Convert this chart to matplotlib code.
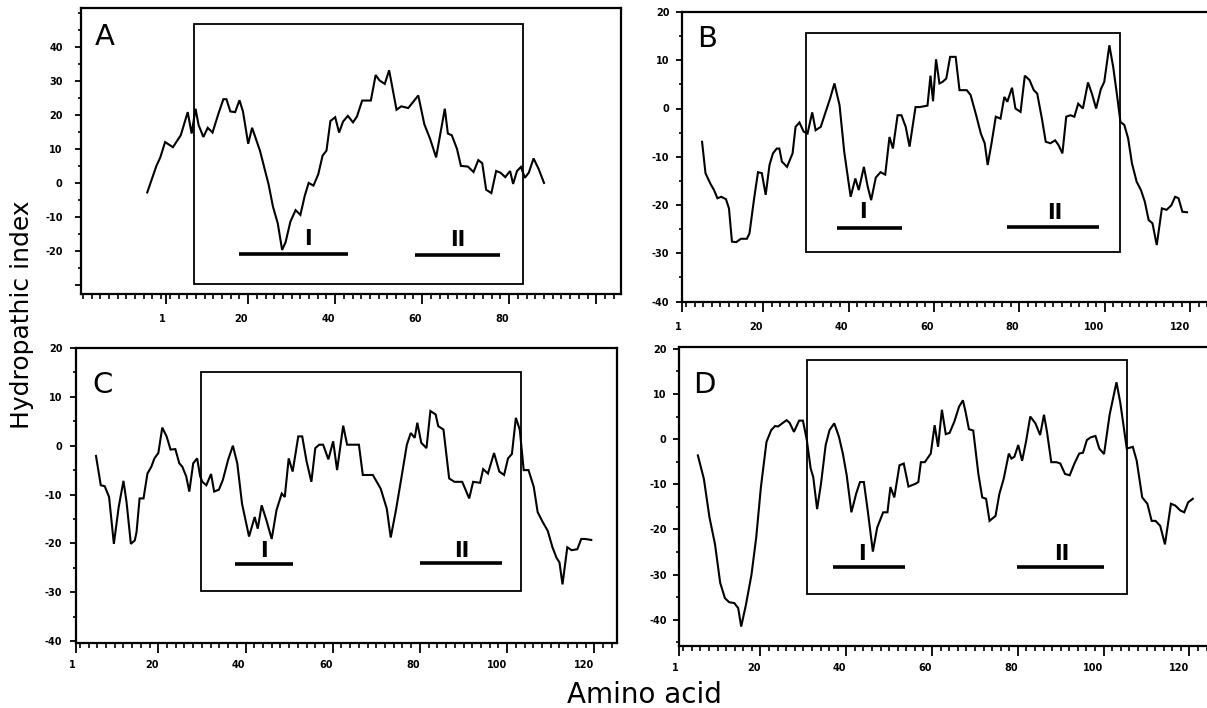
import matplotlib
matplotlib.use("Agg")
import matplotlib.pyplot as plt
from matplotlib.patches import Rectangle
from matplotlib.ticker import MultipleLocator

# ---------------- data ----------------
A_x = [-3.2, -1.1, -0.2, 0.9, 2.7, 4.5, 6.1, 7.0, 7.9, 8.6, 9.7, 10.7, 11.8, 13.2, 14.3, 15.0,
       15.9, 17.0, 18.0, 18.8, 20.0, 20.9, 22.7, 23.6, 24.7, 25.7, 26.8, 27.8, 28.6, 29.7, 30.9,
       32.0, 33.0, 33.9, 35.0, 36.1, 37.1, 38.0, 38.9, 40.0, 40.9, 41.8, 42.9, 44.1, 45.0, 46.2,
       48.2, 49.3, 50.2, 51.4, 52.4, 54.1, 55.2, 56.8, 59.1, 60.5, 61.8, 63.2, 65.2, 65.9, 66.8,
       68.0, 68.9, 70.5, 71.8, 72.9, 73.8, 74.7, 75.9, 77.0, 78.0, 79.1, 80.2, 80.9, 81.8, 82.7,
       83.6, 84.5, 85.6, 86.8, 88.0]
A_y = [-2.7, 5.1, 7.6, 12.1, 10.6, 14.1, 20.9, 14.6, 21.9, 17.1, 13.6, 16.3, 14.9, 20.6, 24.7, 24.7,
       21.1, 20.9, 24.4, 21.1, 11.6, 16.3, 9.6, 5.1, -0.4, -6.9, -11.8, -19.6, -17.3, -11.3, -7.9,
       -9.3, -3.7, 0.1, -0.7, 2.6, 8.1, 9.6, 18.3, 19.4, 14.9, 18.1, 19.8, 17.9, 19.6, 24.3,
       24.3, 31.8, 30.2, 29.2, 33.2, 21.6, 22.6, 22.1, 25.8, 17.3, 13.1, 7.6, 21.9, 14.6, 14.1,
       10.1, 5.1, 4.9, 3.3, 6.8, 5.9, -1.9, -2.9, 3.6, 3.1, 1.8, 3.6, -0.2, 3.6, 4.8,
       1.6, 3.1, 7.3, 4.1, 0.1]

B_x = [5.7, 6.5, 7.6, 8.5, 9.3, 10.2, 11.3, 12.0, 12.7, 13.7, 14.8, 16.2, 16.8, 17.9, 18.8, 19.7,
       20.6, 21.5, 22.3, 23.2, 23.8, 24.4, 25.6, 26.9, 27.6, 28.5, 29.5, 30.4, 31.5, 32.3, 33.5,
       34.8, 35.7, 36.7, 37.9, 39.0, 40.5, 41.6, 42.4, 43.6, 44.5, 45.3, 46.4, 47.5, 48.6, 49.6,
       50.4, 51.5, 52.4, 53.4, 54.3, 55.7, 56.7, 58.5, 59.2, 59.8, 60.5, 61.3, 62.0, 62.9, 63.8,
       65.1, 66.0, 67.7, 68.6, 69.9, 71.0, 71.9, 72.6, 73.5, 74.5, 75.6, 76.5, 77.2, 78.3, 79.1,
       80.3, 81.3, 82.4, 83.4, 84.2, 85.3, 86.2, 87.3, 88.4, 89.2, 90.1, 91.0, 92.0, 92.9, 93.8,
       94.9, 96.1, 97.0, 98.0, 99.1, 99.9, 101.1, 102.0, 102.8, 103.7, 104.6, 105.5, 106.4, 107.5,
       108.5, 109.4, 110.3, 111.2, 112.2, 113.4, 114.5, 115.6, 116.5, 117.3, 118.2, 119.3]
B_y = [-6.9, -13.4, -15.5, -16.9, -18.6, -18.3, -18.8, -20.7, -27.6, -27.7, -27.0, -27.0, -25.9, -18.6, -13.2, -13.4,
       -17.9, -11.7, -9.3, -8.3, -8.3, -11.0, -12.1, -9.3, -3.8, -2.9, -4.8, -5.2, -0.8, -4.5, -3.8,
       -0.3, 2.1, 5.2, 0.7, -9.0, -18.3, -14.5, -16.9, -12.1, -16.2, -19.0, -14.3, -13.2, -13.7, -5.9,
       -8.3, -1.4, -1.4, -3.8, -7.9, 0.3, 0.3, 0.6, 6.8, 1.5, 10.2, 5.2, 5.5, 6.2, 10.7,
       10.7, 3.8, 3.8, 2.8, -1.4, -5.2, -7.2, -11.7, -7.2, -1.7, -2.1, 2.4, 1.4, 4.3, 0.0,
       -0.7, 6.8, 5.9, 3.8, 3.1, -2.1, -6.9, -7.2, -6.6, -7.6, -9.3, -1.7, -1.4, -1.7, 1.0,
       0.0, 5.4, 3.1, 0.0, 4.0, 5.5, 13.1, 8.6, 3.4, -2.8, -3.4, -6.2, -11.4, -15.2,
       -16.9, -19.3, -23.1, -23.8, -28.3, -20.7, -21.0, -20.1, -18.3, -18.6, -21.4, -21.5]

C_x = [5.7, 6.8, 7.7, 8.7, 9.8, 10.9, 12.0, 12.7, 13.7, 14.6, 15.0, 15.7, 16.6, 17.5, 18.4, 19.1,
       20.0, 20.9, 21.9, 22.8, 23.9, 24.8, 25.5, 26.4, 27.1, 28.0, 28.9, 29.6, 30.1, 31.0, 32.1,
       32.8, 33.9, 34.8, 36.0, 37.1, 38.1, 39.2, 40.8, 42.1, 42.8, 43.7, 44.8, 46.0, 47.1, 48.3,
       49.0, 49.9, 50.8, 52.1, 53.0, 54.0, 55.1, 56.0, 56.9, 57.8, 59.0, 60.1, 61.0, 62.4, 63.3,
       66.0, 66.9, 69.2, 71.0, 72.4, 73.3, 74.5, 75.8, 77.0, 77.9, 78.8, 79.4, 80.3, 81.5, 82.4,
       83.6, 84.2, 85.4, 86.7, 87.9, 89.7, 91.3, 92.2, 93.8, 94.5, 95.6, 97.0, 98.2, 99.3, 100.2,
       101.1, 102.0, 102.9, 103.8, 104.9, 106.1, 107.0, 108.2, 109.3, 110.4, 111.3, 112.0, 112.7,
       113.8, 114.8, 116.1, 117.0, 117.9, 119.3]
C_y = [-2.1, -8.1, -8.3, -10.5, -20.1, -12.6, -7.2, -11.5, -20.1, -19.4, -17.7, -10.8, -10.8, -5.7, -4.3, -2.6,
       -1.5, 3.7, 1.9, -0.8, -0.7, -3.6, -4.3, -6.3, -9.4, -3.6, -2.6, -6.3, -7.4, -8.1, -5.8,
       -9.4, -9.0, -7.0, -2.9, 0.0, -3.6, -11.9, -18.6, -14.6, -17.0, -12.2, -15.3, -19.1, -13.2, -9.8,
       -10.5, -2.6, -5.3, 1.9, 1.9, -3.2, -7.4, -0.5, 0.2, 0.2, -2.8, 0.9, -5.0, 4.1, 0.2,
       0.2, -6.0, -6.0, -8.8, -12.9, -18.8, -13.2, -6.3, 0.2, 2.6, 1.6, 4.7, 0.6, -0.5, 7.1,
       6.4, 4.0, 3.3, -6.7, -7.4, -7.4, -10.8, -7.4, -7.6, -4.8, -5.7, -1.5, -5.3, -6.0, -2.6,
       -1.7, 5.7, 3.3, -5.0, -5.0, -8.4, -13.6, -15.7, -17.4, -20.8, -22.9, -23.9, -28.4,
       -20.8, -21.4, -21.2, -19.1, -19.1, -19.3]

D_x = [5.4, 6.8, 8.1, 9.4, 10.6, 11.7, 12.7, 13.9, 14.8, 15.5, 16.6, 17.9, 19.0, 20.1, 21.4, 22.5,
       23.4, 24.1, 25.2, 26.1, 26.8, 27.8, 29.0, 29.9, 30.8, 31.7, 32.3, 33.2, 34.1, 35.2, 36.1,
       37.2, 38.3, 39.2, 40.1, 41.2, 42.3, 43.2, 44.1, 45.0, 46.2, 47.2, 48.6, 49.6, 50.3, 51.2,
       52.4, 53.4, 54.5, 56.1, 56.8, 57.4, 58.3, 59.7, 60.6, 61.4, 62.3, 63.2, 64.1, 65.2, 66.3,
       67.2, 67.8, 68.6, 69.6, 70.8, 71.7, 72.6, 73.4, 74.8, 75.7, 76.7, 77.9, 78.5, 79.2, 80.1,
       81.0, 81.9, 82.9, 84.1, 85.2, 86.1, 86.8, 87.8, 89.0, 89.9, 91.0, 92.1, 93.2, 94.3, 95.2,
       96.1, 97.0, 98.1, 99.0, 100.1, 101.4, 103.0, 103.9, 105.4, 106.8, 107.7, 109.0, 110.2, 111.2,
       112.1, 113.2, 114.3, 115.7, 116.7, 117.9, 118.8, 119.7, 120.8]
D_y = [-3.6, -8.8, -17.3, -23.3, -31.8, -35.2, -36.1, -36.3, -37.4, -41.5, -36.7, -30.0, -21.8, -10.6, -0.6, 2.0,
       2.9, 2.8, 3.6, 4.2, 3.6, 1.6, 4.1, 4.1, -0.2, -6.5, -8.4, -15.5, -9.9, -1.3, 2.0,
       3.5, 0.5, -3.2, -8.0, -16.2, -12.1, -9.5, -9.5, -15.8, -24.9, -19.6, -16.2, -16.2, -10.6, -12.9,
       -5.8, -5.4, -10.5, -9.9, -9.5, -5.1, -5.1, -3.2, 3.1, -1.7, 6.5, 1.1, 1.4, 3.9, 7.2,
       8.6, 6.1, 2.2, 1.9, -7.7, -12.9, -13.2, -18.1, -17.0, -12.1, -8.8, -3.2, -4.3, -3.9, -1.3,
       -4.8, -0.6, 5.0, 3.5, 0.9, 5.4, 1.6, -5.1, -5.1, -5.4, -7.7, -8.0, -5.4, -3.2, -3.0,
       -0.2, 0.4, 0.7, -2.1, -3.3, 5.4, 12.6, 8.0, -2.1, -1.7, -4.7, -12.9, -14.3, -18.1,
       -18.1, -19.2, -23.3, -14.3, -14.7, -15.8, -16.2, -14.0, -13.2]

# framed region (x0, x1, y0, y1) and the two segments (x0, x1, y) with label positions
A_box = [7.5, 83.2, -29.6, 46.8]
A_seg1 = [17.9, 43.0, -20.8]
A_seg2 = [58.4, 78.0, -21.0]
A_lab1 = [33.8, -16.3]
A_lab2 = [68.2, -16.8]

B_box = [30.1, 103.5, -29.7, 15.7]
B_seg1 = [37.2, 52.5, -24.8]
B_seg2 = [77.1, 98.7, -24.6]
B_lab1 = [43.4, -21.5]
B_lab2 = [88.4, -21.7]

C_box = [29.8, 103.2, -29.7, 15.0]
C_seg1 = [37.5, 50.8, -24.3]
C_seg2 = [80.0, 98.8, -24.1]
C_lab1 = [44.2, -21.5]
C_lab2 = [89.7, -21.5]

D_box = [30.8, 105.4, -34.2, 17.5]
D_seg1 = [36.8, 53.6, -28.3]
D_seg2 = [79.8, 100.1, -28.3]
D_lab1 = [43.7, -25.4]
D_lab2 = [90.3, -25.4]

x_ticks_A = [1, 20, 40, 60, 80, 100]
x_labels_A = ["1", "20", "40", "60", "80", ""]
x_ticks = [1, 20, 40, 60, 80, 100, 120]
x_labels = ["1", "20", "40", "60", "80", "100", "120"]
y_ticks_A = [-30, -20, -10, 0, 10, 20, 30, 40]
y_labels_A = ["", "-20", "-10", "0", "10", "20", "30", "40"]
y_ticks = [-40, -30, -20, -10, 0, 10, 20]
y_labels = ["-40", "-30", "-20", "-10", "0", "10", "20"]

# ---------------- figure ----------------
W, H = 1207, 708
fig = plt.figure(figsize=(W / 100, H / 100), dpi=100)
fig.patch.set_facecolor("white")


def px_axes(l, t, r, b):
    return fig.add_axes([l / W, 1 - b / H, (r - l) / W, (b - t) / H])


def panel(ax, x, y, xlim, ylim, xt, xl, yt, yl, box, s1, s2, l1, l2, letter, loff, xpad, ypad):
    ax.plot(x, y, color="black", lw=1.5, solid_joinstyle="miter")
    ax.set_xlim(*xlim)
    ax.set_ylim(*ylim)
    ax.add_patch(Rectangle((box[0], box[2]), box[1] - box[0], box[3] - box[2],
                           fill=False, ec="black", lw=1.3))
    for s in (s1, s2):
        ax.plot([s[0], s[1]], [s[2], s[2]], color="black", lw=2.6, solid_capstyle="butt")
    ax.text(l1[0], l1[1], "I", ha="center", va="center", fontsize=15, fontweight="bold")
    ax.text(l2[0], l2[1], "II", ha="center", va="center", fontsize=15, fontweight="bold")
    ax.set_xticks(xt, labels=xl, fontsize=7, fontweight="bold", ha="right")
    ax.set_yticks(yt, labels=yl, fontsize=7, fontweight="bold")
    ax.xaxis.set_minor_locator(MultipleLocator(2))
    ax.yaxis.set_minor_locator(MultipleLocator(5))
    ax.tick_params(axis="x", which="major", direction="out", length=7, width=1.3, pad=xpad)
    ax.tick_params(axis="x", which="minor", direction="out", length=3.5, width=1.2)
    ax.tick_params(axis="y", which="major", direction="out", length=4.5, width=1.3, pad=ypad)
    ax.tick_params(axis="y", which="minor", direction="out", length=2.5, width=1.2)
    ax.tick_params(top=False, right=False, which="both")
    for sp in ax.spines.values():
        sp.set_linewidth(1.6)
    ax.annotate(letter, xy=(0, 1), xycoords="axes fraction", xytext=(loff[0], -loff[1]),
                textcoords="offset pixels", ha="left", va="top", fontsize=21)


axA = px_axes(80.7, 8, 621, 293.5)
axB = px_axes(682, 12, 1240, 301.5)
axC = px_axes(75.5, 348, 617, 643)
axD = px_axes(679, 347, 1240, 646)

panel(axA, A_x, A_y, (-18.5, 105.7), (-32.4, 51.5), x_ticks_A, x_labels_A, y_ticks_A, y_labels_A,
      A_box, A_seg1, A_seg2, A_lab1, A_lab2, "A", (14, 15), 8, 8.5)
panel(axB, B_x, B_y, (1, 131.7), (-40, 20), x_ticks, x_labels, y_ticks, y_labels,
      B_box, B_seg1, B_seg2, B_lab1, B_lab2, "B", (15, 13), 8, 4.5)
panel(axC, C_x, C_y, (1, 125.2), (-40.4, 20), x_ticks, x_labels, y_ticks, y_labels,
      C_box, C_seg1, C_seg2, C_lab1, C_lab2, "C", (17, 23), 5, 5)
panel(axD, D_x, D_y, (1, 131.8), (-45.8, 20.4), x_ticks, x_labels, y_ticks, y_labels,
      D_box, D_seg1, D_seg2, D_lab1, D_lab2, "D", (14, 24), 5, 4.5)

fig.text(22 / W, 1 - 315 / H, "Hydropathic index", rotation=90, ha="center", va="center",
         fontsize=18)
fig.text(567 / W, 1 - 703 / H, "Amino acid", ha="left", va="baseline", fontsize=20)

fig.savefig("out.png", dpi=100, facecolor="white")
